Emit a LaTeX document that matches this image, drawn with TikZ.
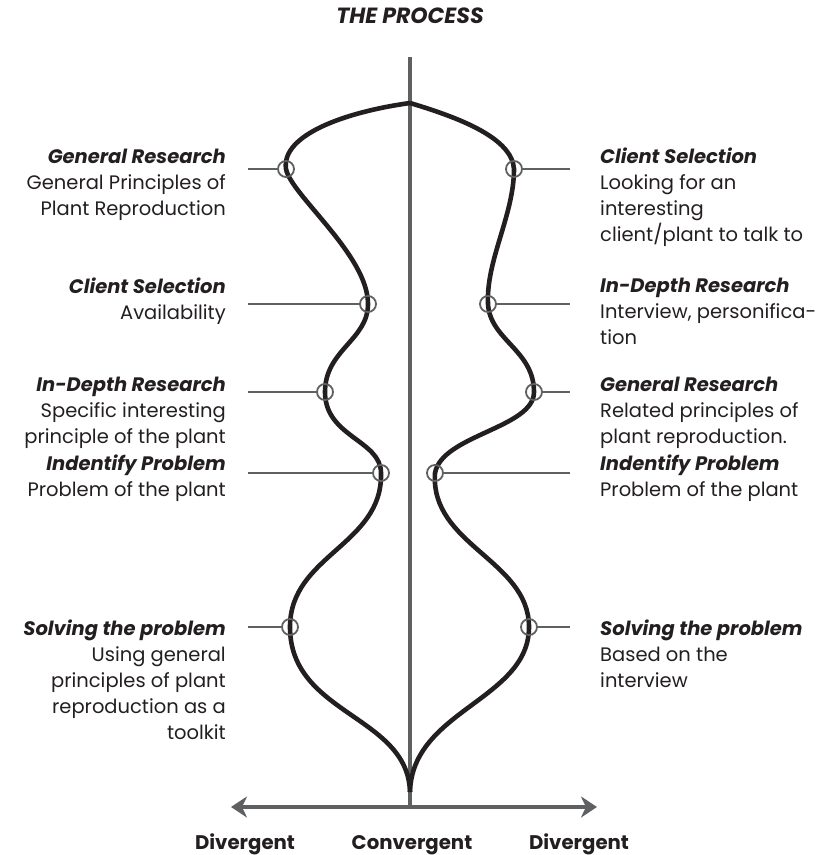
\documentclass[tikz,border=0pt]{standalone}
\usepackage{fontspec}
\setmainfont{Poppins}
\usetikzlibrary{arrows.meta}
\definecolor{lgray}{HTML}{5F6062}
\definecolor{ink}{HTML}{231F20}
\newcommand{\hd}[1]{\rule{0pt}{16pt}\textbf{\textit{#1}}}
\begin{document}
\begin{tikzpicture}[x=1pt,y=-1pt,
  body/.style={inner sep=0pt, font=\fontsize{19.5}{26}\selectfont, text=ink},
  lbl/.style={body, align=right, anchor=north east},
  rlbl/.style={body, align=left, anchor=north west},
  tick/.style={draw=lgray, line width=2.2pt},
  ring/.style={circle, draw=lgray, line width=1.8pt, minimum size=16pt, inner sep=0pt},
  curve/.style={draw=ink, line width=4.6pt},
  axis/.style={draw=lgray, line width=4pt},
  foot/.style={inner sep=0pt, anchor=base, font=\fontsize{19.7}{22}\selectfont\bfseries, text=ink}
]
\useasboundingbox (0,0) rectangle (836,855);

% title
\node[inner sep=0pt, anchor=base, font=\fontsize{22}{26}\selectfont\bfseries\itshape, text=ink] (title) at (410,23) {THE PROCESS};

% coordinates
\coordinate (top) at (410,103);
\coordinate (bot) at (410,792);
\coordinate (vtop) at (410,57);
\coordinate (axc) at (410,807);
\coordinate (axl) at (231,807);
\coordinate (axr) at (597,807);

% central line and axis
\draw[axis] (vtop) -- (axc);
\draw[axis, {Stealth[length=16pt,width=21pt,inset=5pt]}-{Stealth[length=16pt,width=21pt,inset=5pt]}] (axl) -- (axr);

% ring positions
\coordinate (l1) at (286,169);
\coordinate (l2) at (368,304);
\coordinate (l3) at (325,392);
\coordinate (l4) at (381,473);
\coordinate (l5) at (290,627);
\coordinate (r1) at (514,169);
\coordinate (r2) at (488,304);
\coordinate (r3) at (534,392);
\coordinate (r4) at (435,473);
\coordinate (r5) at (529,627);

% tick ends
\coordinate (lt1) at (248,169);
\coordinate (lt2) at (248,304);
\coordinate (lt3) at (248,392);
\coordinate (lt4) at (248,473);
\coordinate (lt5) at (248,627);
\coordinate (rt1) at (570,169);
\coordinate (rt2) at (570,304);
\coordinate (rt3) at (570,392);
\coordinate (rt4) at (570,473);
\coordinate (rt5) at (570,627);

% curves
\draw[curve] (top) .. controls (345,112) and (281,135) .. (l1)
  .. controls (291,195) and (368,255) .. (l2)
  .. controls (368,340) and (325,350) .. (l3)
  .. controls (325,437) and (381,440) .. (l4)
  .. controls (383,545) and (290,555) .. (l5)
  .. controls (290,715) and (408,715) .. (bot);
\draw[curve] (top) .. controls (460,118) and (512,138) .. (r1)
  .. controls (514,215) and (486,260) .. (r2)
  .. controls (490,340) and (534,350) .. (r3)
  .. controls (534,428) and (442,435) .. (r4)
  .. controls (430,545) and (529,560) .. (r5)
  .. controls (529,700) and (412,710) .. (bot);

% rings
\foreach \p in {l1,l2,l3,l4,l5,r1,r2,r3,r4,r5}{\node[ring] (c\p) at (\p) {};}

% ticks
\foreach \i in {1,...,5}{
  \draw[tick] (lt\i) -- (cl\i.west);
  \draw[tick] (cr\i.east) -- (rt\i);
}

% left labels
\node[lbl] (L1) at (226,147) {\hd{General Research}\\General Principles of\\Plant Reproduction};
\node[lbl] (L2) at (226,277) {\hd{Client Selection}\\Availability};
\node[lbl] (L3) at (226,375) {\hd{In-Depth Research}\\Specific interesting\\principle of the plant};
\node[lbl] (L4) at (226,454) {\hd{Indentify Problem}\\Problem of the plant};
\node[lbl] (L5) at (226,619) {\hd{Solving the problem}\\Using general\\principles of plant\\reproduction as a\\toolkit};

% right labels
\node[rlbl] (R1) at (600,147) {\hd{Client Selection}\\Looking for an\\interesting\\client/plant to talk to};
\node[rlbl] (R2) at (600,276) {\hd{In-Depth Research}\\Interview, personifica-\\tion};
\node[rlbl] (R3) at (600,375) {\hd{General Research}\\Related principles of\\plant reproduction.};
\node[rlbl] (R4) at (600,454) {\hd{Indentify Problem}\\Problem of the plant};
\node[rlbl] (R5) at (600,619) {\hd{Solving the problem}\\Based on the\\interview};

% footer
\node[foot] (dl) at (245,849) {Divergent};
\node[foot] (cv) at (412,849) {Convergent};
\node[foot] (dr) at (579,849) {Divergent};
\end{tikzpicture}
\end{document}
